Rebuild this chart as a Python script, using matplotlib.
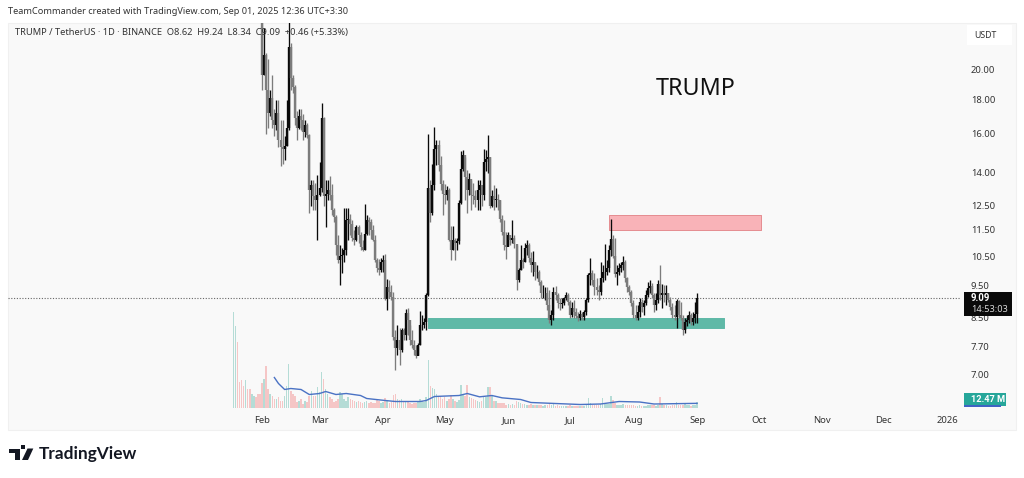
import pandas as pd
import matplotlib
matplotlib.use("Agg")
import matplotlib.pyplot as plt
from matplotlib.patches import Rectangle, Polygon

plt.rcParams['font.family'] = ['Noto Sans', 'DejaVu Sans']

W, H = 1024, 478

# daily candles TRUMP/USDT from 18 Jan 2025
closes = [38, 55, 45, 40, 37, 33, 36, 31, 28, 29, 30, 27, 26, 24,
    19.59, 20.99, 18.6, 17.2, 18.1, 16.8, 16.5, 17.2, 15.67, 15.3, 15.2, 15.35, 16.3, 21.6, 19.4, 18.8,
    16.9, 16.3, 17.0, 16.8, 16.1, 16.5, 15.95, 13.2, 13.4, 12.9, 12.75, 12.97, 13.3, 16.9, 12.9, 13.0,
    13.2, 12.97, 12.3, 12.0, 10.92, 10.37, 10.5, 10.55, 10.73, 11.9, 11.95, 11.75, 11.2, 11.1,
    11.6, 11.3, 10.85, 10.73, 11.35, 11.9, 11.8, 11.5, 11.1, 10.37, 10.1, 10.02, 10.3, 10.37, 9.05,
    9.45, 9.28, 9.13, 7.95, 7.67, 7.87, 7.6, 8.15, 8.0, 8.65, 8.43, 7.87, 7.74, 7.6, 7.45,
    7.74, 8.29, 8.29, 8.38, 9.19, 13.3, 12.2, 13.4, 15.2, 15.4, 14.37, 13.45, 13.0, 12.95, 13.2,
    11.1, 10.73, 11.1, 10.98, 11.05, 12.6, 14.2, 14.9, 13.8, 13.2, 13.7, 12.95, 12.9, 12.75, 13.2,
    13.4, 12.97, 14.5, 14.65, 14.75, 12.5, 12.9, 12.75, 12.8, 12.75, 11.95, 11.4, 10.92, 10.85, 11.3,
    11.1, 11.2, 10.95, 9.68, 10.0, 10.37, 10.3, 10.8, 10.9, 10.45, 10.2, 10.3, 9.95, 9.95, 9.6,
    9.25, 9.25, 9.25, 8.88, 8.43, 8.58, 9.28, 9.19, 8.95, 8.9, 8.95, 9.1, 9.19, 8.97, 8.58,
    8.8, 8.67, 8.55, 8.49, 8.61, 8.52, 8.67, 9.03, 9.85, 9.9, 9.68, 9.45, 9.35, 9.28, 9.75,
    9.95, 9.95, 10.1, 10.73, 11.15, 10.5, 9.87, 9.95, 10.1, 10.2, 10.3, 9.75, 9.45, 9.28, 8.95,
    8.58, 8.49, 8.67, 8.97, 8.82, 8.95, 9.19, 9.42, 9.48, 9.19, 8.88, 9.03, 9.55, 9.19, 9.25,
    9.19, 9.25, 9.03, 8.82, 8.58, 8.52, 9.0, 8.58, 8.49, 8.15, 8.37, 8.43, 8.58, 8.37, 8.49,
    8.62, 9.09]
highs = [60, 75, 60, 50, 42, 40, 40, 38, 33, 32, 33, 31, 29, 28,
    24.5, 23.0, 21.1, 20.7, 18.6, 19.6, 17.4, 17.98, 17.98, 16.78, 16.8, 15.9, 18.0, 24.0, 21.9, 19.6,
    18.9, 17.3, 17.4, 17.4, 17.15, 16.8, 16.6, 16.0, 13.65, 13.65, 13.5, 13.9, 14.5, 17.8, 16.95, 13.65,
    13.65, 13.85, 13.45, 12.4, 12.1, 11.3, 10.92, 10.8, 12.4, 12.4, 12.4, 12.15, 11.9, 11.5,
    11.7, 11.7, 11.4, 11.1, 12.55, 12.1, 12.0, 11.95, 11.7, 11.3, 10.45, 10.4, 10.45, 10.55, 10.6,
    9.7, 9.68, 9.5, 9.3, 8.15, 8.3, 8.2, 8.2, 8.2, 8.75, 8.78, 8.3, 8.15, 7.87, 7.74,
    7.8, 8.7, 8.58, 8.5, 9.25, 16.0, 13.65, 14.4, 16.4, 15.65, 15.65, 14.85, 13.65, 13.45, 13.35,
    13.3, 11.65, 11.65, 11.2, 11.2, 12.75, 15.1, 15.15, 14.75, 14.15, 14.0, 13.65, 13.5, 13.2, 13.65,
    13.65, 13.2, 15.2, 15.15, 15.95, 14.75, 13.2, 13.4, 13.3, 13.0, 12.75, 12.1, 11.9, 11.4, 11.4,
    11.3, 11.9, 11.3, 10.9, 10.1, 10.92, 10.45, 11.0, 11.1, 11.0, 10.65, 10.7, 10.25, 10.2, 10.0,
    9.68, 9.5, 9.45, 9.45, 9.35, 8.73, 9.45, 9.48, 9.25, 9.1, 9.1, 9.13, 9.28, 9.25, 9.03,
    8.97, 9.03, 8.8, 8.67, 8.73, 8.67, 8.73, 9.1, 9.9, 10.45, 10.02, 9.9, 9.75, 9.5, 10.3,
    10.19, 10.95, 10.37, 10.92, 11.95, 11.3, 11.2, 10.2, 10.25, 10.3, 10.5, 10.37, 9.78, 9.5, 9.35,
    9.03, 8.88, 8.88, 9.1, 9.07, 9.03, 9.35, 9.6, 9.68, 9.58, 9.25, 9.25, 9.68, 10.19, 9.55,
    9.51, 9.51, 9.25, 9.13, 8.95, 8.88, 9.05, 9.03, 8.97, 8.58, 8.5, 8.58, 8.7, 8.64, 8.67,
    8.97, 9.24]
lows = [30, 38, 40, 36, 32, 30, 30, 28, 26, 26, 27, 25, 24.5, 23.6,
    18.6, 19.59, 16.0, 16.3, 17.0, 16.3, 15.9, 16.2, 15.3, 14.3, 14.4, 14.6, 15.35, 16.2, 18.6, 18.4,
    16.5, 15.65, 16.25, 16.2, 15.65, 15.85, 15.75, 12.2, 12.5, 12.3, 12.3, 11.1, 12.9, 13.1, 12.5, 11.6,
    12.75, 12.75, 12.1, 11.8, 10.55, 10.25, 9.5, 9.9, 10.3, 10.55, 11.1, 11.3, 11.05, 10.92,
    11.05, 11.0, 10.73, 10.7, 10.73, 11.3, 11.3, 11.15, 11.05, 10.3, 9.95, 9.85, 9.95, 9.95, 9.03,
    8.73, 9.1, 9.03, 7.87, 7.1, 7.48, 7.22, 7.55, 7.87, 7.87, 8.0, 7.74, 7.65, 7.48, 7.4,
    7.48, 7.74, 8.15, 8.2, 8.15, 9.15, 11.8, 12.1, 13.2, 14.37, 14.1, 13.2, 12.1, 12.55, 12.75,
    11.05, 10.37, 10.73, 10.37, 10.73, 10.95, 12.55, 14.1, 12.75, 12.2, 12.95, 12.3, 12.55, 12.45, 12.3,
    12.3, 12.5, 12.75, 14.1, 14.0, 12.4, 12.45, 12.3, 12.45, 12.3, 11.8, 11.3, 10.73, 10.4, 10.9,
    10.92, 11.0, 10.8, 9.35, 9.6, 10.0, 10.1, 10.3, 10.55, 10.3, 9.95, 9.8, 9.68, 9.75, 9.5,
    9.1, 9.1, 9.03, 8.73, 8.35, 8.29, 8.43, 9.03, 8.8, 8.73, 8.8, 8.88, 9.03, 8.88, 8.49,
    8.52, 8.49, 8.49, 8.4, 8.43, 8.43, 8.43, 8.58, 8.97, 9.5, 9.5, 9.19, 9.19, 9.03, 9.19,
    9.6, 9.68, 9.85, 9.95, 10.5, 10.45, 9.78, 9.5, 9.85, 9.95, 10.02, 9.6, 9.3, 9.2, 8.85,
    8.49, 8.43, 8.43, 8.52, 8.67, 8.58, 8.88, 9.13, 9.25, 9.1, 8.67, 8.73, 8.95, 9.03, 8.8,
    8.97, 8.88, 8.97, 8.73, 8.49, 8.43, 8.21, 8.49, 8.43, 8.01, 8.07, 8.26, 8.35, 8.29, 8.29,
    8.35, 8.34]

# volume in millions
volumes = [288, 246, 198, 78, 84, 66, 84, 57, 57, 42,
    36, 33, 42, 42, 75, 87, 126, 57, 42, 36,
    27, 27, 33, 21, 21, 36, 66, 132, 51, 42,
    36, 18, 21, 27, 12, 21, 18, 36, 51, 36,
    36, 63, 48, 108, 87, 57, 42, 33, 27, 18,
    21, 27, 48, 42, 27, 21, 33, 27, 24, 21,
    18, 21, 18, 15, 18, 21, 15, 18, 15, 15,
    24, 21, 15, 18, 30, 21, 15, 18, 39, 42,
    27, 24, 27, 18, 21, 21, 15, 12, 15, 15,
    18, 27, 21, 18, 33, 144, 66, 60, 57, 42,
    33, 36, 27, 33, 21, 27, 39, 27, 21, 18,
    24, 69, 42, 36, 69, 33, 30, 27, 24, 21,
    18, 21, 33, 33, 63, 63, 36, 21, 21, 15,
    15, 15, 15, 9, 12, 9, 12, 9, 21, 18,
    15, 12, 12, 9, 9, 12, 9, 9, 9, 9,
    9, 6, 9, 9, 15, 9, 12, 6, 9, 6,
    6, 6, 6, 6, 9, 6, 6, 6, 6, 6,
    6, 6, 9, 30, 15, 9, 9, 9, 9, 12,
    30, 15, 12, 12, 36, 24, 15, 9, 9, 9,
    12, 9, 9, 9, 9, 9, 6, 6, 9, 6,
    6, 6, 9, 9, 9, 9, 6, 9, 33, 12,
    9, 9, 6, 6, 9, 9, 18, 9, 9, 9,
    12, 9, 9, 6, 9, 9, 18]

# volume average line, read at these day numbers
ma_days = [20, 22, 25, 28, 33, 37, 42, 45, 50, 55, 62, 65, 74, 79, 91, 94, 98, 110, 114, 120,
    126, 131, 140, 145, 157, 169, 179, 188, 198, 205, 226]
ma_values = [90, 72, 54, 57, 54, 39, 42, 48, 39, 42, 36, 27, 21, 18, 18, 21, 33, 36, 42, 32,
    36, 29, 24, 15, 12, 9, 10.5, 18, 16.5, 10.5, 12.47]

price_ticks = [7.0, 7.7, 8.5, 9.5, 10.5, 11.5, 12.5, 14, 16, 18, 20]
price_labels = ['7.00', '7.70', '8.50', '9.50', '10.50', '11.50', '12.50', '14.00', '16.00', '18.00', '20.00']
month_ticks = ['2025-02-01', '2025-03-01', '2025-04-01', '2025-05-01', '2025-06-01', '2025-07-01',
    '2025-08-01', '2025-09-01', '2025-10-01', '2025-11-01', '2025-12-01', '2026-01-01']
month_labels = ['Feb', 'Mar', 'Apr', 'May', 'Jun', 'Jul', 'Aug', 'Sep', 'Oct', 'Nov', 'Dec', '2026']

last_price = 9.09
red_zone = ('2025-07-20', '2025-10-02', 11.5, 12.12)
green_zone = ('2025-04-23', '2025-09-14', 8.19, 8.49)

start = pd.Timestamp('2025-01-18')
dates = pd.date_range(start, periods=len(closes))
opens = [closes[0]] + closes[:-1]
up = [c >= o for c, o in zip(closes, opens)]
ma_dates = [start + pd.Timedelta(days=d) for d in ma_days]


def px(x, y):
    return x / W, 1 - y / H


fig = plt.figure(figsize=(W / 100, H / 100), dpi=100, facecolor='white')

# fondo del panel
fig.add_artist(Rectangle(px(8, 430), 1008 / W, 407 / H, transform=fig.transFigure,
                         facecolor='#f9f9f9', edgecolor='#f0f0f0', lw=0.8, zorder=-5))

left, bottom = px(8, 407.5)
rect = [left, bottom, 953 / W, 384.5 / H]
ax = fig.add_axes(rect)
ax2 = ax.twinx()
ax.set_zorder(3)
ax2.set_zorder(2)
ax.patch.set_visible(False)
ax2.patch.set_visible(False)

# volumen
vol_colors = ['#b5dcd6' if u else '#f5c6c6' for u in up]
ax2.bar(dates, volumes, width=0.75, color=vol_colors, linewidth=0)
ax2.plot(ma_dates, ma_values, color='#4a72c4', lw=1.0)
ax2.set_ylim(0, 1153.5)
ax2.set_yticks([])

# zonas
for zone, fc, ec in [(red_zone, '#f9b3b8', '#e58c90'), (green_zone, '#5fb9a7', '#5fb9a7')]:
    x0, x1 = pd.Timestamp(zone[0]), pd.Timestamp(zone[1])
    ax.fill_between([x0, x1], zone[2], zone[3], facecolor=fc, edgecolor=ec, lw=0.7, zorder=1)

# velas
candle_colors = ['#0a0a0a' if u else '#7c7c7c' for u in up]
ax.vlines(dates, lows, highs, colors=candle_colors, lw=0.95, zorder=3)
ax.vlines(dates, opens, closes, colors=candle_colors, lw=1.7, zorder=4)

ax.axhline(last_price, color='#666666', lw=0.8, ls=(0, (1, 1.5)), zorder=2)

ax.set_yscale('log')
ax.set_ylim(6.24, 23.43)
ax.set_xlim(start + pd.Timedelta(days=-109.8), start + pd.Timedelta(days=354.6))
ax.set_yticks(price_ticks)
ax.set_yticklabels(price_labels, fontsize=6.8, color='#333333')
ax.minorticks_off()
ax.yaxis.tick_right()
ax.tick_params(axis='y', length=0, pad=7)
ax.set_xticks(pd.to_datetime(month_ticks))
ax.set_xticklabels(month_labels, fontsize=6.8, color='#333333')
ax.tick_params(axis='x', length=0, pad=6)
for a in (ax, ax2):
    for s in a.spines.values():
        s.set_visible(False)


def label(x, y, s, **kw):
    kw.setdefault('va', 'center')
    kw.setdefault('zorder', 10)
    fig.text(x / W, 1 - y / H, s, **kw)


def box(x0, y0, x1, y1, color, z=8):
    fig.add_artist(Rectangle(px(x0, y1), (x1 - x0) / W, (y1 - y0) / H, transform=fig.transFigure,
                             facecolor=color, edgecolor='none', zorder=z))


label(8, 11, 'TeamCommander created with TradingView.com, Sep 01, 2025 12:36 UTC+3:30',
      fontsize=6.6, color='#333333')
label(15, 32, 'TRUMP / TetherUS · 1D · BINANCE  O8.62  H9.24  L8.34  C9.09  +0.46 (+5.33%)',
      fontsize=6.7, color='#333333')
label(696, 89, 'TRUMP', fontsize=16.8, color='#111111', ha='center')

# cajas de la escala
box(967, 25, 1012, 45, 'white')
label(985, 36, 'USDT', fontsize=6.3, color='#333333', ha='center')
box(964, 292, 1012, 316, '#0a0a0a')
label(971, 298, '9.09', fontsize=7, color='white', fontweight='bold', fontfamily=['Roboto', 'DejaVu Sans'])
label(971, 310, '14:53:03', fontsize=6.6, color='#d8d8d8')
box(964, 393, 1006, 406, '#26a69a')
box(964, 405, 1001, 407, '#3f63c4', z=9)
label(971, 399.5, '12.47 M', fontsize=6.6, color='white', fontweight='bold', fontfamily=['Roboto', 'DejaVu Sans'])

# logo TradingView
logo = '#131722'
fig.add_artist(Polygon([px(9.3, 448.5), px(20, 448.5), px(20, 460), px(14.5, 460), px(14.5, 453), px(9.3, 453)],
                       closed=True, transform=fig.transFigure, facecolor=logo, edgecolor='none'))
fig.add_artist(Polygon([px(27.5, 448.5), px(33.3, 448.5), px(28, 460), px(22, 460)],
                       closed=True, transform=fig.transFigure, facecolor=logo, edgecolor='none'))
fig.add_artist(Rectangle(px(21, 448.5), 4 / W, 4 / H, transform=fig.transFigure,
                         facecolor=logo, edgecolor='none'))
label(39, 454, 'TradingView', fontsize=12.4, color=logo, fontfamily=['Lato', 'DejaVu Sans'], fontweight='bold')

fig.savefig('out.png', dpi=100)
